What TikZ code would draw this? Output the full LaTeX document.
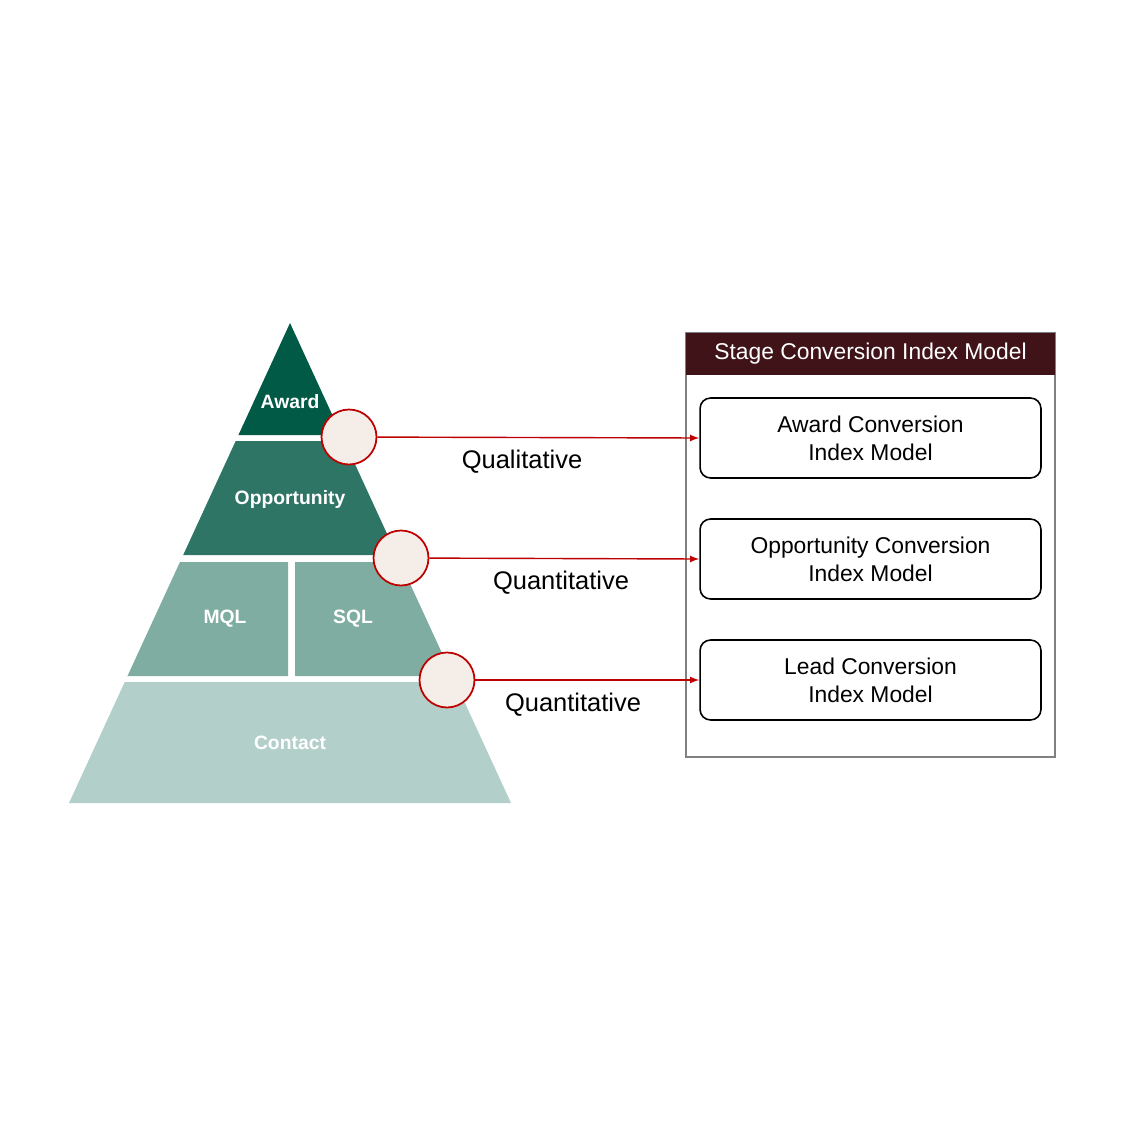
\documentclass[tikz,border=0pt]{standalone}
\usepackage{fontspec}
\setmainfont{Liberation Sans}
\begin{document}
\begin{tikzpicture}[x=0.02cm,y=-0.02cm,
  circ/.style={circle,draw=red!75!black,fill=circfill,line width=1pt,minimum size=55\pgflinewidth*0+1.1cm,inner sep=0},
  arr/.style={-latex,draw=red!75!black,line width=0.8pt},
  lab/.style={font=\fontsize{14.5}{16}\selectfont},
  plab/.style={text=white,font=\bfseries\fontsize{11}{13}\selectfont},
  mbox/.style={draw,rounded corners=6pt,line width=0.9pt,minimum width=6.82cm,minimum height=1.6cm,align=center,font=\fontsize{13}{16}\selectfont}]
\definecolor{awc}{HTML}{005A46}
\definecolor{opc}{HTML}{2E7566}
\definecolor{msc}{HTML}{80ADA2}
\definecolor{coc}{HTML}{B3CFC9}
\definecolor{circfill}{HTML}{F5EEE8}
\definecolor{hdr}{HTML}{3F1318}
\useasboundingbox (0,0) rectangle (1125,1125);
\pgfmathsetmacro{\k}{0.4604}
% layers
\fill[awc] (290,323) -- ({290+\k*112},435) -- ({290-\k*112},435) -- cycle;
\fill[opc] ({290-\k*118},441) -- ({290+\k*118},441) -- ({290+\k*232},555) -- ({290-\k*232},555) -- cycle;
\fill[msc] ({290-\k*239},562) -- (288,562) -- (288,676) -- ({290-\k*353},676) -- cycle;
\fill[msc] (295,562) -- ({290+\k*239},562) -- ({290+\k*353},676) -- (295,676) -- cycle;
\fill[coc] ({290-\k*359},682) -- ({290+\k*359},682) -- (511,803) -- (69,803) -- cycle;
\node[plab] (aw) at (290,402) {Award};
\node[plab] (op) at (290,499) {Opportunity};
\node[plab] (mq) at (225,619) {MQL};
\node[plab] (sq) at (353,619) {SQL};
\node[plab] (co) at (290,743) {Contact};
% panel
\draw[gray,line width=0.8pt] (686,333) rectangle (1055,757);
\fill[hdr] (686,333) rectangle (1055,375);
\node[text=white,font=\fontsize{13}{15}\selectfont] (hd) at (870.5,354) {Stage Conversion Index Model};
\node[mbox] (b1) at (870.5,438) {Award Conversion\\Index Model};
\node[mbox] (b2) at (870.5,559) {Opportunity Conversion\\Index Model};
\node[mbox] (b3) at (870.5,680) {Lead Conversion\\Index Model};
% circles
\node[circ] (c1) at (349,437) {};
\node[circ] (c2) at (401,558) {};
\node[circ] (c3) at (447,680) {};
\draw[arr] (c1) -- (b1.west);
\draw[arr] (c2) -- (b2.west);
\draw[arr] (c3) -- (b3.west);
\node[lab] (l1) at (522,462) {Qualitative};
\node[lab] (l2) at (561,583) {Quantitative};
\node[lab] (l3) at (573,705) {Quantitative};
\end{tikzpicture}
\end{document}
